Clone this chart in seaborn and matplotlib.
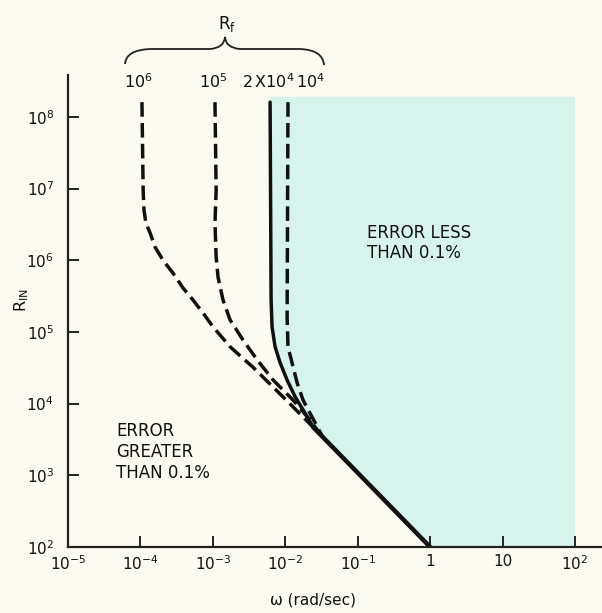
import numpy as np
import pandas as pd
import seaborn as sns
import matplotlib
matplotlib.use("Agg")
import matplotlib.pyplot as plt
from matplotlib.path import Path
from matplotlib.patches import PathPatch

# ---------------- data ----------------
# R_f = 10^6 (dashed)
w_1e6 = [1.05e-4, 1.09e-4, 1.12e-4, 1.19e-4, 1.36e-4, 1.59e-4, 2.05e-4, 2.82e-4, 3.87e-4,
         5.3e-4, 7.3e-4, 1.01e-3, 1.73e-3, 3.6e-3, 6.8e-3, 1.28e-2, 2.42e-2]
r_1e6 = [1.6e8, 9.5e6, 5.0e6, 3.3e6, 2.4e6, 1.53e6, 1.0e6, 6.6e5, 4.1e5,
         2.8e5, 1.84e5, 1.17e5, 6.2e4, 3.2e4, 1.7e4, 9.0e3, 4.7e3]
# R_f = 10^5 (dashed)
w_1e5 = [1.07e-3, 1.11e-3, 1.07e-3, 1.11e-3, 1.18e-3, 1.38e-3, 1.73e-3, 2.61e-3, 4.1e-3,
         6.8e-3, 1.28e-2, 2.2e-2, 3.03e-2]
r_1e5 = [1.6e8, 9.5e6, 3.3e6, 1.11e6, 5.8e5, 2.8e5, 1.47e5, 7.7e4, 4.06e4,
         2.13e4, 1.12e4, 5.9e3, 3.76e3]
# R_f = 2x10^4 (solid)
w_2e4 = [6.17e-3, 6.37e-3, 6.57e-3, 7.23e-3, 8.5e-3, 1.06e-2, 1.37e-2, 1.87e-2, 2.42e-2, 3.03e-2]
r_2e4 = [1.6e8, 2.8e5, 1.17e5, 6.2e4, 3.7e4, 2.13e4, 1.24e4, 7.4e3, 4.7e3, 3.76e3]
# R_f = 10^4 (dashed)
w_1e4 = [1.09e-2, 1.06e-2, 1.09e-2, 1.24e-2, 1.46e-2, 1.76e-2, 2.34e-2, 2.84e-2, 3.2e-2]
r_1e4 = [1.6e8, 1.61e5, 6.2e4, 3.7e4, 1.94e4, 1.12e4, 6.5e3, 4.5e3, 3.6e3]
# common asymptote (solid)
w_asym = [2.42e-2, 1.0]
r_asym = [4.7e3, 1.0e2]

# shaded "error less than 0.1%" region limits
shade_top = 1.9e8
shade_right = 1.0e2
shade_bottom = 1.0e2

x_ticks = [1e-5, 1e-4, 1e-3, 1e-2, 1e-1, 1, 10, 1e2]
x_ticklabels = ["$10^{-5}$", "$10^{-4}$", "$10^{-3}$", "$10^{-2}$", "$10^{-1}$", "1", "10", "$10^{2}$"]
y_ticks = [1e2, 1e3, 1e4, 1e5, 1e6, 1e7, 1e8]
y_ticklabels = ["$10^{2}$", "$10^{3}$", "$10^{4}$", "$10^{5}$", "$10^{6}$", "$10^{7}$", "$10^{8}$"]
rf_labels = ["$10^{6}$", "$10^{5}$", "$2\\,$X$10^{4}$", "$10^{4}$"]

# ---------------- styling ----------------
sns.set_style("ticks")
plt.rcParams['font.family'] = ['DejaVu Sans']
plt.rcParams['mathtext.default'] = 'regular'

W, H = 602, 613
BG = '#fbfbf1'
fig = plt.figure(figsize=(W / 100, H / 100), dpi=100, facecolor=BG)
ax = fig.add_axes([68 / W, 1 - 547 / H, (W - 68) / W, 472 / H])
ax.set_facecolor(BG)
ax.set_xscale('log')
ax.set_yscale('log')
ax.set_xlim(1e-5, 10 ** 2.373)
ax.set_ylim(1e2, 10 ** 8.583)

# shaded region
shade_w = [w_2e4[0]] + w_2e4[1:-1] + [w_asym[1], shade_right, shade_right]
shade_r = [shade_top] + r_2e4[1:-1] + [shade_bottom, shade_bottom, shade_top]
ax.fill(shade_w, shade_r, color='#d6f4ec', lw=0, zorder=0)

dash = (0, (4.2, 1.8))
curves = [
    (w_1e6, r_1e6, dash),
    (w_1e5, r_1e5, dash),
    (w_2e4, r_2e4, '-'),
    (w_1e4, r_1e4, dash),
]
for w, r, ls in curves:
    df = pd.DataFrame({'w': w, 'r': r})
    sns.lineplot(data=df, x='w', y='r', ax=ax, sort=False, estimator=None,
                 color='#111111', lw=2.5, linestyle=ls)
df = pd.DataFrame({'w': w_asym, 'r': r_asym})
sns.lineplot(data=df, x='w', y='r', ax=ax, sort=False, estimator=None,
             color='#111111', lw=3.2, linestyle='-')

sns.despine(ax=ax)
for s in ['left', 'bottom']:
    ax.spines[s].set_linewidth(1.6)
    ax.spines[s].set_color('#222222')

ax.set_xticks(x_ticks)
ax.set_xticklabels(x_ticklabels)
ax.set_yticks(y_ticks)
ax.set_yticklabels(y_ticklabels)
ax.minorticks_off()
ax.tick_params(direction='in', length=8, width=1.4, colors='#222222',
               labelsize=11, labelcolor='#111111')
ax.tick_params(axis='x', pad=5)
ax.tick_params(axis='y', pad=10)
ax.set_xlabel('')
ax.set_ylabel('')

# axis titles
fig.text(313 / W, 1 - 600 / H, 'ω (rad/sec)', ha='center', va='center', fontsize=11, color='#111111')
fig.text(22 / W, 1 - 300 / H, '$R_{IN}$', ha='center', va='center', rotation=90, fontsize=11.5, color='#111111')

# region annotations
fig.text(367 / W, 1 - 243 / H, 'ERROR LESS\nTHAN 0.1%', ha='left', va='center',
         fontsize=12, color='#111111', linespacing=1.2)
fig.text(116 / W, 1 - 452 / H, 'ERROR\nGREATER\nTHAN 0.1%', ha='left', va='center',
         fontsize=12, color='#111111', linespacing=1.2)

# R_f labels above curves
rf_x = [138, 213, 268, 310]
for lab, xp in zip(rf_labels, rf_x):
    fig.text(xp / W, 1 - 88 / H, lab, ha='center', va='baseline', fontsize=11.5, color='#111111')
fig.text(227 / W, 1 - 29 / H, '$R_f$', ha='center', va='baseline', fontsize=12, color='#111111')

# curly brace
def P(x, y):
    return (x / W, 1 - y / H)
verts = [P(125, 64), P(126, 50), P(150, 49), P(210, 49), P(224, 48), P(225, 37),
         P(226, 48), P(240, 49), P(300, 49), P(323, 50), P(324, 65)]
codes = [Path.MOVETO, Path.CURVE3, Path.CURVE3, Path.LINETO, Path.CURVE3, Path.CURVE3,
         Path.CURVE3, Path.CURVE3, Path.LINETO, Path.CURVE3, Path.CURVE3]
fig.add_artist(PathPatch(Path(verts, codes), fill=False, lw=1.3, color='#222222',
                         transform=fig.transFigure))

fig.savefig('out.png', dpi=100, facecolor=fig.get_facecolor())
